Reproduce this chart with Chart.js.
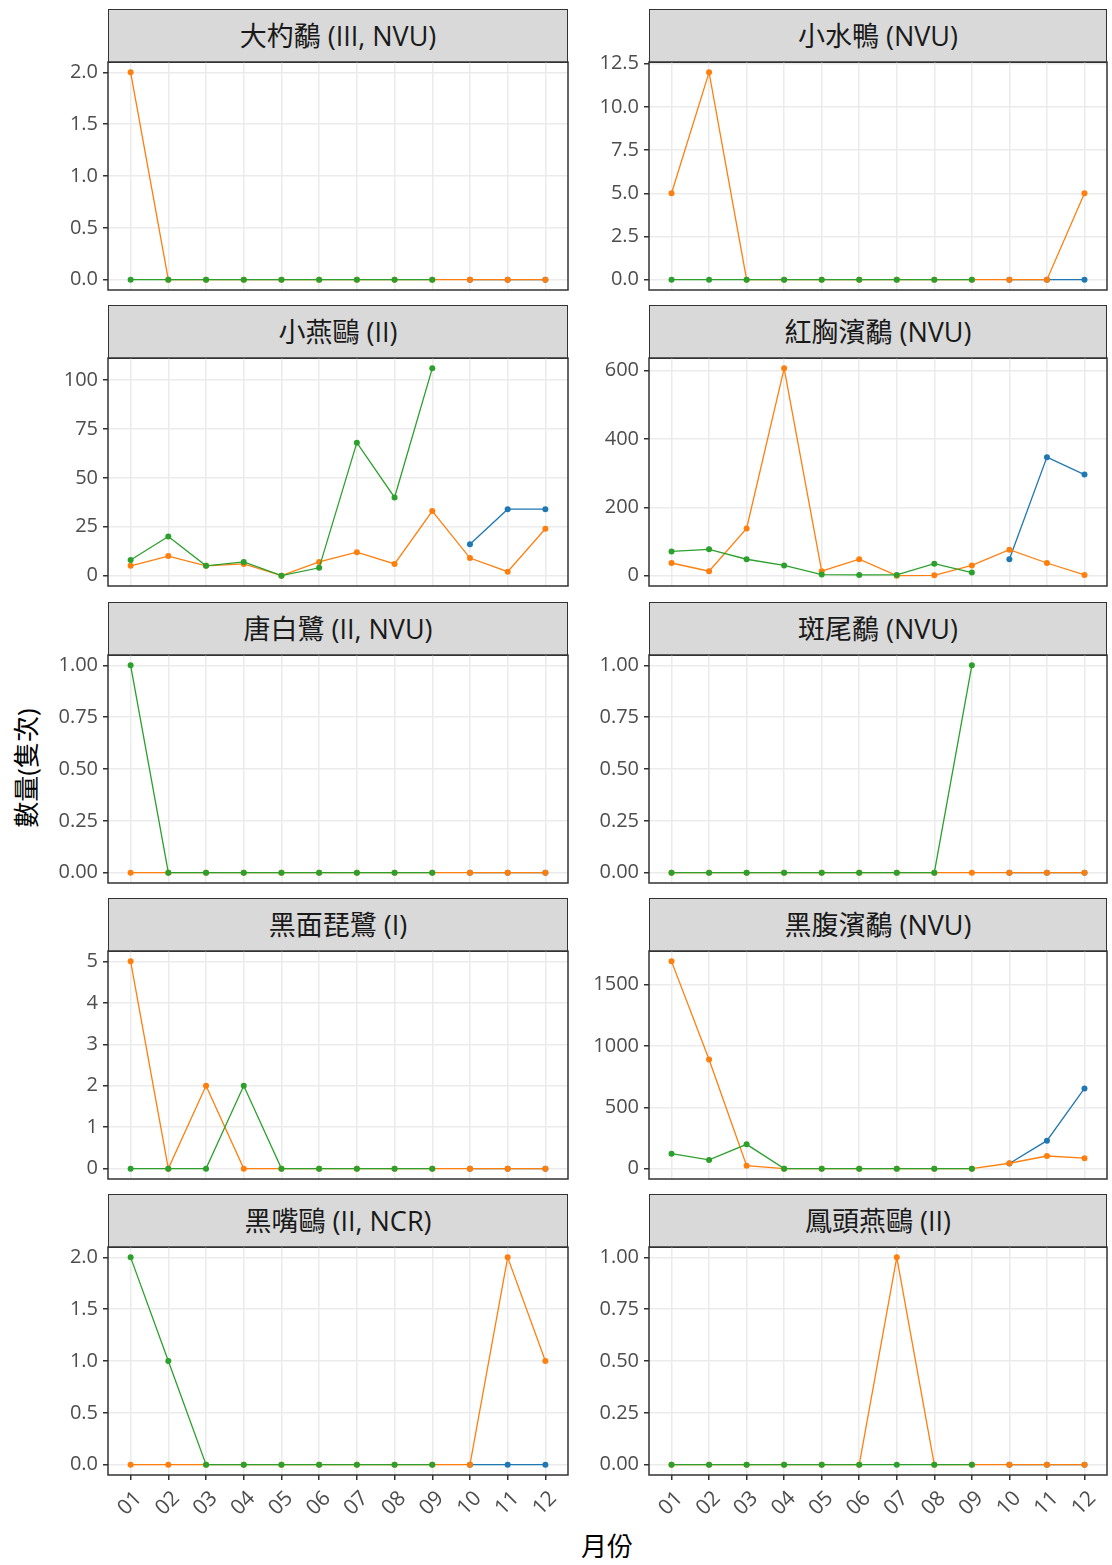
<!DOCTYPE html>
<html>
<head>
<meta charset="utf-8">
<script src="https://cdn.jsdelivr.net/npm/chart.js@4"></script>
<style>
  body { margin: 0; background: #fff; width: 1112px; height: 1565px; position: relative; overflow: hidden;
         font-family: "Open Sans", "Noto Sans CJK TC", sans-serif; }
  .strip { position: absolute; box-sizing: border-box; background: #d9d9d9; border: 1.5px solid #333;
           color: #1a1a1a; font-size: 27px; text-align: center; line-height: 52px;
           font-family: "Open Sans", "Noto Sans CJK TC", sans-serif; }
  .box { position: absolute; }
  .ytitle { position: absolute; left: 25px; top: 768px; transform: translate(-50%, -50%) rotate(-90deg);
            font-size: 26px; color: #000; white-space: nowrap; }
  .xtitle { position: absolute; left: 607px; top: 1545px; transform: translate(-50%, -50%);
            font-size: 26px; color: #000; }
</style>
</head>
<body>
<div class="ytitle">數量(隻次)</div>
<div class="xtitle">月份</div>
<script>
const months = ['01', '02', '03', '04', '05', '06', '07', '08', '09', '10', '11', '12'];

const species = [
  '大杓鷸 (III, NVU)', '小水鴨 (NVU)',
  '小燕鷗 (II)', '紅胸濱鷸 (NVU)',
  '唐白鷺 (II, NVU)', '斑尾鷸 (NVU)',
  '黑面琵鷺 (I)', '黑腹濱鷸 (NVU)',
  '黑嘴鷗 (II, NCR)', '鳳頭燕鷗 (II)'
];

const seriesNames = ['2022', '2023', '2024'];

// blue series: only Oct-Dec
const blueVals = [
  [null, null, null, null, null, null, null, null, null, 0, 0, 0],
  [null, null, null, null, null, null, null, null, null, 0, 0, 0],
  [null, null, null, null, null, null, null, null, null, 16, 34, 34],
  [null, null, null, null, null, null, null, null, null, 48, 347, 296],
  [null, null, null, null, null, null, null, null, null, 0, 0, 0],
  [null, null, null, null, null, null, null, null, null, 0, 0, 0],
  [null, null, null, null, null, null, null, null, null, 0, 0, 0],
  [null, null, null, null, null, null, null, null, null, 42, 228, 654],
  [null, null, null, null, null, null, null, null, null, 0, 0, 0],
  [null, null, null, null, null, null, null, null, null, 0, 0, 0]
];

// orange series: full year
const orangeVals = [
  [2, 0, 0, 0, 0, 0, 0, 0, 0, 0, 0, 0],
  [5, 12, 0, 0, 0, 0, 0, 0, 0, 0, 0, 5],
  [5, 10, 5, 6, 0, 7, 12, 6, 33, 9, 2, 24],
  [37, 13, 138, 607, 13, 48, 0, 1, 30, 76, 37, 2],
  [0, 0, 0, 0, 0, 0, 0, 0, 0, 0, 0, 0],
  [0, 0, 0, 0, 0, 0, 0, 0, 0, 0, 0, 0],
  [5, 0, 2, 0, 0, 0, 0, 0, 0, 0, 0, 0],
  [1690, 890, 24, 0, 0, 0, 0, 0, 0, 44, 103, 85],
  [0, 0, 0, 0, 0, 0, 0, 0, 0, 0, 2, 1],
  [0, 0, 0, 0, 0, 0, 1, 0, 0, 0, 0, 0]
];

// green series: Jan-Sep
const greenVals = [
  [0, 0, 0, 0, 0, 0, 0, 0, 0, null, null, null],
  [0, 0, 0, 0, 0, 0, 0, 0, 0, null, null, null],
  [8, 20, 5, 7, 0, 4, 68, 40, 106, null, null, null],
  [71, 77, 48, 30, 3, 2, 2, 35, 9, null, null, null],
  [1, 0, 0, 0, 0, 0, 0, 0, 0, null, null, null],
  [0, 0, 0, 0, 0, 0, 0, 0, 1, null, null, null],
  [0, 0, 0, 2, 0, 0, 0, 0, 0, null, null, null],
  [122, 71, 198, 0, 0, 0, 0, 0, 0, null, null, null],
  [2, 1, 0, 0, 0, 0, 0, 0, 0, null, null, null],
  [0, 0, 0, 0, 0, 0, 0, 0, 0, null, null, null]
];

const yTickLabels = [
  ['0.0', '0.5', '1.0', '1.5', '2.0'],
  ['0.0', '2.5', '5.0', '7.5', '10.0', '12.5'],
  ['0', '25', '50', '75', '100'],
  ['0', '200', '400', '600'],
  ['0.00', '0.25', '0.50', '0.75', '1.00'],
  ['0.00', '0.25', '0.50', '0.75', '1.00'],
  ['0', '1', '2', '3', '4', '5'],
  ['0', '500', '1000', '1500'],
  ['0.0', '0.5', '1.0', '1.5', '2.0'],
  ['0.00', '0.25', '0.50', '0.75', '1.00']
];

const colors = ['#1f77b4', '#ff7f0e', '#2ca02c'];

// layout
const plotLeft = [108, 649];
const plotRight = [568, 1107];
const plotTop = [62, 358, 655, 951, 1247];
const plotH = 228;
const stripH = 54;
const yAxisW = 80;
const padTop = 16;

const borderPlugin = {
  id: 'panelBorder',
  afterDraw(chart) {
    const a = chart.chartArea;
    const ctx = chart.ctx;
    ctx.save();
    ctx.strokeStyle = '#333';
    ctx.lineWidth = 1.5;
    ctx.strokeRect(a.left, a.top, a.right - a.left, a.bottom - a.top);
    ctx.restore();
  }
};

function toPoints(vals) {
  return vals.map((v, i) => ({ x: i + 1, y: v }));
}

function noPad(s) {
  s.paddingTop = 0;
  s.paddingBottom = 0;
  s.paddingLeft = 0;
  s.paddingRight = 0;
}

species.forEach((name, p) => {
  const col = p % 2;
  const row = Math.floor(p / 2);
  const bottom = row === plotTop.length - 1;
  const L = plotLeft[col], R = plotRight[col], T = plotTop[row];
  const xAxisH = bottom ? 56 : 4;

  const strip = document.createElement('div');
  strip.className = 'strip';
  strip.style.left = L + 'px';
  strip.style.top = (T - stripH + 1) + 'px';
  strip.style.width = (R - L) + 'px';
  strip.style.height = stripH + 'px';
  strip.textContent = name;
  document.body.appendChild(strip);

  const box = document.createElement('div');
  box.className = 'box';
  const w = yAxisW + (R - L) + 12;
  const h = padTop + plotH + xAxisH;
  box.style.left = (L - yAxisW) + 'px';
  box.style.top = (T - padTop) + 'px';
  box.style.width = w + 'px';
  box.style.height = h + 'px';
  const cv = document.createElement('canvas');
  box.appendChild(cv);
  document.body.appendChild(box);

  const all = [...blueVals[p], ...orangeVals[p], ...greenVals[p]].filter(v => v !== null);
  const ymax = Math.max(...all);
  const ticks = yTickLabels[p].map(Number);

  const mk = (vals, c, order, label) => ({
    label: label,
    data: toPoints(vals),
    borderColor: c,
    backgroundColor: c,
    borderWidth: 1.3,
    pointRadius: 3,
    pointHoverRadius: 3,
    pointBorderWidth: 0,
    spanGaps: false,
    order: order
  });

  new Chart(cv, {
    type: 'line',
    data: {
      datasets: [
        mk(greenVals[p], colors[2], 0, seriesNames[2]),
        mk(orangeVals[p], colors[1], 1, seriesNames[1]),
        mk(blueVals[p], colors[0], 2, seriesNames[0])
      ]
    },
    options: {
      responsive: true,
      maintainAspectRatio: false,
      animation: false,
      layout: { padding: { top: padTop, right: 12, left: 0, bottom: 0 } },
      plugins: { legend: { display: false }, tooltip: { enabled: false } },
      scales: {
        x: {
          type: 'linear',
          min: 0.4,
          max: 12.6,
          afterBuildTicks(s) { s.ticks = months.map((m, i) => ({ value: i + 1 })); },
          afterFit(s) { s.height = xAxisH; noPad(s); },
          grid: { color: '#ebebeb', lineWidth: 1.5, drawTicks: bottom, tickLength: 5, tickColor: '#333' },
          border: { display: false },
          ticks: {
            display: bottom,
            autoSkip: false,
            minRotation: 45,
            maxRotation: 45,
            padding: 6,
            labelOffset: 8,
            color: '#4d4d4d',
            font: { family: 'Open Sans', size: 21 },
            callback: (v) => months[v - 1]
          }
        },
        y: {
          type: 'linear',
          min: -0.05 * ymax,
          max: 1.05 * ymax,
          afterBuildTicks(s) { s.ticks = ticks.map(v => ({ value: v })); },
          afterFit(s) { s.width = yAxisW; noPad(s); },
          grid: { color: '#ebebeb', lineWidth: 1.5, drawTicks: true, tickLength: 5, tickColor: '#333' },
          border: { display: false },
          ticks: {
            padding: 5,
            color: '#4d4d4d',
            font: { family: 'Open Sans', size: 20 },
            callback: (v) => {
              const i = ticks.indexOf(v);
              return i >= 0 ? yTickLabels[p][i] : '';
            }
          }
        }
      }
    },
    plugins: [borderPlugin]
  });
});
</script>
</body>
</html>
